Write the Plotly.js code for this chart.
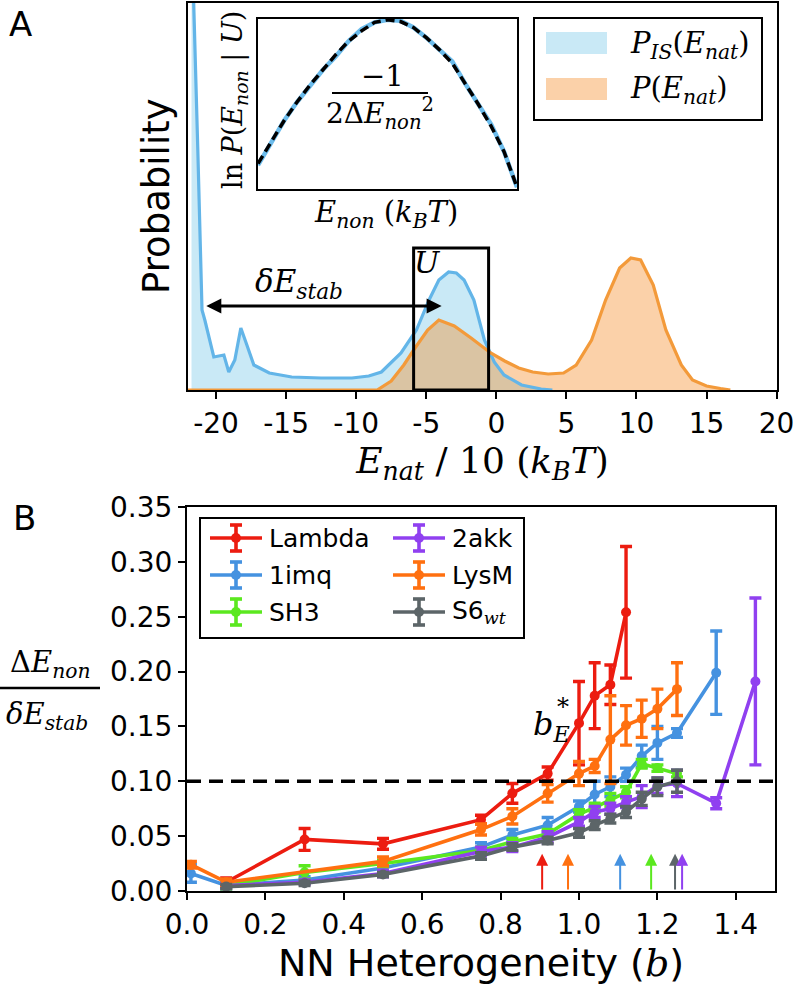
<!DOCTYPE html>
<html><head><meta charset="utf-8">
<script src="https://cdn.plot.ly/plotly-3.0.1.min.js"></script>
<style>html,body{margin:0;padding:0;background:#fff}</style>
</head><body><div id="chart" style="width:793px;height:988px"></div>
<script>
// ---------- Panel A data ----------
const isX = [-21.75,-21.6,-21.3,-21.2,-21.0,-20.8,-20.16,-19.44,-19.09,-18.66,-18.23,-17.8,-17.3,-16.2,-14.6,-12.5,-10.3,-9.1,-8.2,-6.8,-5.7,-4.8,-4.1,-3.4,-2.85,-2.3,-1.6,-0.85,-0.15,0.55,1.8,3.2,4.0];
const isY = [5.0,3.9,2.4,1.9,0.8,0.7,0.33,0.35,0.18,0.30,0.62,0.45,0.25,0.17,0.13,0.12,0.12,0.14,0.18,0.37,0.60,0.90,1.10,1.18,1.17,1.10,0.90,0.50,0.28,0.15,0.05,0.01,0.0];
const natX = [-22,-8.5,-7.5,-6.6,-5.8,-4.9,-4.1,-3.0,-1.8,-0.4,0.6,1.6,2.6,3.7,4.8,5.7,6.8,7.8,8.8,9.6,10.3,11.2,12.1,13.2,14.0,15.0,16.0,16.7];
const natY = [0,0,0.09,0.25,0.42,0.60,0.70,0.64,0.52,0.37,0.29,0.22,0.18,0.16,0.17,0.25,0.50,0.90,1.22,1.32,1.30,1.05,0.60,0.25,0.10,0.04,0.015,0];
const xTickVals = [-20,-15,-10,-5,0,5,10,15,20];
const xTickText = ['-20','-15','-10','-5','0','5','10','15','20'];
const boxU = [-5.9,-0.55,1.42];           // U window: from, to, height
const stabArrow = [-20.8,-3.9,0.84];      // delta E_stab arrow: from, to, level

// inset
const insetX   = [0,0.05,0.10,0.15,0.20,0.25,0.30,0.35,0.40,0.45,0.50,0.55,0.60,0.65,0.70,0.75,0.80,0.85,0.90,0.95,1.0];
const insetLnP = [0.14,0.27,0.40,0.51,0.61,0.70,0.78,0.87,0.94,0.98,0.995,0.99,0.95,0.89,0.82,0.75,0.62,0.50,0.38,0.22,0.01];
const insetFit = [0.15,0.28,0.40,0.51,0.61,0.70,0.79,0.87,0.93,0.98,0.995,0.985,0.95,0.89,0.82,0.74,0.62,0.50,0.37,0.22,0.01];

// ---------- Panel B data ----------
const lambdaB = [0.1,0.3,0.5,0.75,0.83,0.92,1.0,1.04,1.08,1.12];
const lambdaV = [0.008,0.047,0.043,0.065,0.089,0.107,0.153,0.178,0.188,0.254];
const lambdaE = [0.004,0.010,0.005,0.004,0.009,0.006,0.038,0.030,0.018,0.060];

const imqB = [0.01,0.1,0.3,0.5,0.75,0.83,0.92,1.0,1.04,1.08,1.12,1.16,1.2,1.25,1.35];
const imqV = [0.016,0.005,0.010,0.021,0.040,0.051,0.060,0.077,0.088,0.095,0.106,0.123,0.135,0.144,0.199];
const imqE = [0.008,0.003,0.003,0.003,0.004,0.005,0.007,0.005,0.012,0.009,0.006,0.010,0.015,0.004,0.038];

const sh3B = [0.1,0.3,0.5,0.75,0.83,0.92,1.0,1.04,1.08,1.12,1.16,1.2,1.25];
const sh3V = [0.005,0.017,0.025,0.037,0.045,0.052,0.070,0.076,0.083,0.090,0.116,0.112,0.107];
const sh3E = [0.003,0.006,0.003,0.003,0.003,0.004,0.004,0.004,0.006,0.005,0.004,0.003,0.003];

const akkB = [0.1,0.3,0.5,0.75,0.83,0.92,1.0,1.04,1.08,1.12,1.16,1.2,1.25,1.35,1.45];
const akkV = [0.005,0.008,0.016,0.036,0.040,0.049,0.063,0.072,0.075,0.081,0.086,0.096,0.098,0.080,0.191];
const akkE = [0.002,0.002,0.003,0.004,0.004,0.005,0.004,0.005,0.005,0.005,0.010,0.007,0.012,0.005,0.076];

const lysB = [0.01,0.1,0.5,0.75,0.83,0.92,1.0,1.04,1.08,1.12,1.16,1.2,1.25];
const lysV = [0.024,0.008,0.027,0.056,0.068,0.089,0.107,0.114,0.138,0.151,0.157,0.166,0.184];
const lysE = [0.003,0.003,0.004,0.005,0.007,0.008,0.011,0.006,0.040,0.018,0.017,0.018,0.024];

const s6B = [0.1,0.3,0.5,0.75,0.83,0.92,1.0,1.04,1.08,1.12,1.16,1.2,1.25];
const s6V = [0.004,0.007,0.015,0.032,0.040,0.046,0.053,0.060,0.066,0.072,0.084,0.095,0.100];
const s6E = [0.002,0.002,0.002,0.003,0.003,0.003,0.004,0.004,0.004,0.005,0.006,0.008,0.010];

const seriesNames = ['Lambda','1imq','SH3','2akk','LysM','S6<sub><i style="font-family:DejaVu Serif">wt</i></sub>'];
const seriesColors = ['#ec1c10','#4592e0','#5be81f','#9040f0','#ff7010','#5c6568'];
const bStar = [0.906,0.972,1.105,1.184,1.245,1.263];
const bStarColors = ['#ec1c10','#ff7010','#4592e0','#5be81f','#5c6568','#9040f0'];
const threshold = 0.10;

// ---------- helpers (pixel -> paper) ----------
const W = 793, H = 988;
const fx = p => p / W, fy = p => 1 - p / H;
const SERIF = 'DejaVu Serif, serif';
const SANS = 'DejaVu Sans, sans-serif';

const traces = [];
traces.push({x:isX,y:isY,xaxis:'x',yaxis:'y',mode:'lines',fill:'tozeroy',fillcolor:'rgba(135,206,235,0.45)',line:{width:0},hoverinfo:'skip',showlegend:false});
traces.push({x:natX,y:natY,xaxis:'x',yaxis:'y',mode:'lines',fill:'tozeroy',fillcolor:'rgba(245,140,40,0.40)',line:{width:0},hoverinfo:'skip',showlegend:false});
traces.push({x:isX,y:isY,xaxis:'x',yaxis:'y',mode:'lines',line:{color:'#63b5e8',width:3.2},showlegend:false});
traces.push({x:natX,y:natY,xaxis:'x',yaxis:'y',mode:'lines',line:{color:'#f39a3a',width:3.2},showlegend:false});
traces.push({x:insetX,y:insetLnP,xaxis:'x2',yaxis:'y2',mode:'lines',line:{color:'#6cbcec',width:4.5},showlegend:false});
traces.push({x:insetX,y:insetFit,xaxis:'x2',yaxis:'y2',mode:'lines',line:{color:'#000',width:3.5,dash:'9px,5px'},showlegend:false});

const bSeries = [[lambdaB,lambdaV,lambdaE],[imqB,imqV,imqE],[sh3B,sh3V,sh3E],[akkB,akkV,akkE],[lysB,lysV,lysE],[s6B,s6V,s6E]];
bSeries.forEach((s,i)=>{
  traces.push({x:s[0],y:s[1],xaxis:'x3',yaxis:'y3',mode:'lines+markers',name:seriesNames[i],
    line:{color:seriesColors[i],width:3.6},marker:{color:seriesColors[i],size:10},
    error_y:{type:'data',array:s[2],visible:true,color:seriesColors[i],thickness:3.4,width:6},showlegend:false});
});

const shapes = [];
const annotations = [];
function ann(o){ annotations.push(Object.assign({showarrow:false,xanchor:'center',yanchor:'middle'},o)); }

// Panel A: U box
shapes.push({type:'rect',xref:'x',yref:'y',x0:boxU[0],x1:boxU[1],y0:0,y1:boxU[2],line:{color:'#000',width:3}});
ann({xref:'x',yref:'y',x:-4.9,y:1.28,text:'<i>U</i>',font:{family:SERIF,size:30,color:'#000'}});
annotations.push({xref:'x',yref:'y',x:stabArrow[1],y:stabArrow[2],axref:'x',ayref:'y',ax:stabArrow[0],ay:stabArrow[2],text:'',showarrow:true,arrowside:'end+start',arrowhead:2,arrowsize:1,arrowwidth:3,arrowcolor:'#000'});
ann({xref:'x',yref:'y',x:-14.1,y:1.07,text:'<i>δE<sub>stab</sub></i>',font:{family:SERIF,size:31,color:'#000'}});

// Panel A labels
ann({xref:'paper',yref:'paper',x:fx(20),y:fy(24),text:'A',font:{family:SANS,size:34,color:'#000'}});
ann({xref:'paper',yref:'paper',x:fx(157),y:fy(196),text:'Probability',textangle:-90,font:{family:SANS,size:37,color:'#000'}});
// inset labels
ann({xref:'paper',yref:'paper',x:fx(235),y:fy(100),text:'ln <i>P</i>(<i>E<sub>non</sub></i> | <i>U</i>)',textangle:-90,font:{family:SERIF,size:27,color:'#000'}});
ann({xref:'paper',yref:'paper',x:fx(386),y:fy(214),text:'<i>E<sub>non</sub></i> (<i>k<sub>B</sub>T</i>)',font:{family:SERIF,size:29,color:'#000'}});
ann({xref:'paper',yref:'paper',x:fx(382),y:fy(76),text:'−1',font:{family:SERIF,size:29,color:'#000'}});
shapes.push({type:'line',xref:'paper',yref:'paper',x0:fx(332),x1:fx(428),y0:fy(93),y1:fy(93),line:{color:'#000',width:2}});
ann({xref:'paper',yref:'paper',x:fx(380),y:fy(113),text:'2Δ<i>E</i><sub><i>non</i></sub><sup>2</sup>',font:{family:SERIF,size:28,color:'#000'}});

// Panel A legend (manual)
shapes.push({type:'rect',xref:'paper',yref:'paper',x0:fx(534),x1:fx(762),y0:fy(120),y1:fy(18),line:{color:'#000',width:2},fillcolor:'#fff'});
shapes.push({type:'rect',xref:'paper',yref:'paper',x0:fx(546),x1:fx(607),y0:fy(54),y1:fy(32),line:{width:0},fillcolor:'rgba(135,206,235,0.45)'});
shapes.push({type:'rect',xref:'paper',yref:'paper',x0:fx(546),x1:fx(607),y0:fy(100),y1:fy(78),line:{width:0},fillcolor:'rgba(245,140,40,0.40)'});
ann({xref:'paper',yref:'paper',x:fx(628),y:fy(45),xanchor:'left',text:'<i>P<sub>IS</sub></i>(<i>E<sub>nat</sub></i>)',font:{family:SERIF,size:29,color:'#000'}});
ann({xref:'paper',yref:'paper',x:fx(628),y:fy(90),xanchor:'left',text:'<i>P</i>(<i>E<sub>nat</sub></i>)',font:{family:SERIF,size:29,color:'#000'}});

// Panel B
shapes.push({type:'line',xref:'paper',yref:'y3',x0:fx(187),x1:fx(775),y0:threshold,y1:threshold,line:{color:'#000',width:3.5,dash:'14px,8px'}});
ann({xref:'paper',yref:'paper',x:fx(24),y:fy(518),text:'B',font:{family:SANS,size:34,color:'#000'}});
ann({xref:'x3',yref:'y3',x:0.93,y:0.150,text:'<i>b</i><sub><i>E</i></sub>',font:{family:SERIF,size:32,color:'#000'}});
ann({xref:'x3',yref:'y3',x:0.958,y:0.168,text:'*',font:{family:SERIF,size:24,color:'#000'}});
// y title fraction
ann({xref:'paper',yref:'paper',x:fx(50),y:fy(664),text:'Δ<i>E<sub>non</sub></i>',font:{family:SERIF,size:29,color:'#000'}});
shapes.push({type:'line',xref:'paper',yref:'paper',x0:fx(0),x1:fx(100),y0:fy(688),y1:fy(688),line:{color:'#000',width:2.5}});
ann({xref:'paper',yref:'paper',x:fx(47),y:fy(716),text:'<i>δE<sub>stab</sub></i>',font:{family:SERIF,size:29,color:'#000'}});
// b* arrows
bStar.forEach((b,i)=>{
  annotations.push({xref:'x3',yref:'y3',x:b,y:0.034,axref:'x3',ayref:'y3',ax:b,ay:0.0,text:'',showarrow:true,arrowhead:2,arrowsize:1.2,arrowwidth:2,arrowcolor:bStarColors[i]});
});
// Panel B legend (manual, errorbar glyphs)
shapes.push({type:'rect',xref:'paper',yref:'paper',x0:fx(200),x1:fx(524),y0:fy(638),y1:fy(518),line:{color:'#000',width:2},fillcolor:'#fff'});
const rowsY = [538,575,612];
const colX = [[210,262,267],[393,445,450]];
seriesNames.forEach((nm,i)=>{
  const c = Math.floor(i/3), r = i%3;
  const [x0,x1,tx] = colX[c]; const yy = rowsY[r]; const xm = (x0+x1)/2; const col = seriesColors[i];
  const L = {color:col,width:3.6};
  shapes.push({type:'line',xref:'paper',yref:'paper',x0:fx(x0),x1:fx(x1),y0:fy(yy),y1:fy(yy),line:L});
  shapes.push({type:'line',xref:'paper',yref:'paper',x0:fx(xm),x1:fx(xm),y0:fy(yy-13),y1:fy(yy+13),line:L});
  shapes.push({type:'line',xref:'paper',yref:'paper',x0:fx(xm-6),x1:fx(xm+6),y0:fy(yy-13),y1:fy(yy-13),line:L});
  shapes.push({type:'line',xref:'paper',yref:'paper',x0:fx(xm-6),x1:fx(xm+6),y0:fy(yy+13),y1:fy(yy+13),line:L});
  shapes.push({type:'circle',xref:'paper',yref:'paper',x0:fx(xm-5),x1:fx(xm+5),y0:fy(yy+5),y1:fy(yy-5),line:{width:0},fillcolor:col});
  ann({xref:'paper',yref:'paper',x:fx(tx),y:fy(yy),xanchor:'left',text:nm,font:{family:SANS,size:25,color:'#000'}});
});

const axLine = {showline:true,linecolor:'#000',linewidth:2,mirror:true,showgrid:false,zeroline:false};
const layout = {
  width:W,height:H,margin:{l:0,r:0,t:0,b:0},paper_bgcolor:'#fff',plot_bgcolor:'#fff',showlegend:false,
  xaxis:Object.assign({},axLine,{domain:[fx(188),fx(777)],anchor:'y',range:[-22,20.03],tickvals:xTickVals,ticktext:xTickText,
    ticks:'outside',ticklen:7,tickwidth:2,tickcolor:'#000',tickfont:{family:SANS,size:28,color:'#000'},ticklabeloverflow:'allow',
    title:{text:'<i>E<sub>nat</sub></i> / 10 (<i>k<sub>B</sub>T</i>)',font:{family:SERIF,size:36,color:'#000'},standoff:2}}),
  yaxis:Object.assign({},axLine,{domain:[fy(390),fy(3)],anchor:'x',range:[0,3.87],showticklabels:false,ticks:''}),
  xaxis2:Object.assign({},axLine,{domain:[fx(258),fx(517)],anchor:'y2',range:[0,1],showticklabels:false,ticks:''}),
  yaxis2:Object.assign({},axLine,{domain:[fy(189),fy(19)],anchor:'x2',range:[0,1],showticklabels:false,ticks:''}),
  xaxis3:Object.assign({},axLine,{domain:[fx(187),fx(775)],anchor:'y3',range:[0,1.5],dtick:0.2,tick0:0,tickformat:'.1f',
    ticks:'outside',ticklen:7,tickwidth:2,tickcolor:'#000',tickfont:{family:SANS,size:28,color:'#000'},
    title:{text:'NN Heterogeneity (<i style="font-family:DejaVu Serif">b</i>)',font:{family:SANS,size:38,color:'#000'},standoff:4}}),
  yaxis3:Object.assign({},axLine,{domain:[fy(891),fy(507)],anchor:'x3',range:[0,0.35],dtick:0.05,tick0:0,tickformat:'.2f',
    ticks:'outside',ticklen:7,tickwidth:2,tickcolor:'#000',tickfont:{family:SANS,size:28,color:'#000'}}),
  shapes:shapes,annotations:annotations
};
Plotly.newPlot('chart',traces,layout,{displayModeBar:false,staticPlot:true});
</script></body></html>
